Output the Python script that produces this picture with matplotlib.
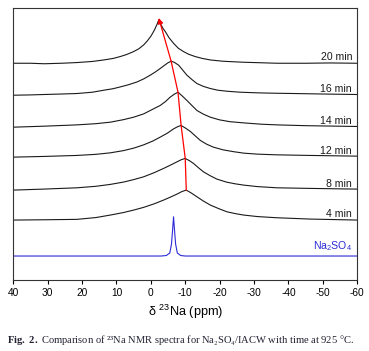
import matplotlib as mpl
mpl.use("Agg")
import matplotlib.pyplot as plt

mpl.rcParams["font.family"] = ["Liberation Sans", "DejaVu Sans"]
mpl.rcParams["axes.unicode_minus"] = False
mpl.rcParams["mathtext.fontset"] = "custom"
mpl.rcParams["mathtext.rm"] = "Liberation Sans"
mpl.rcParams["mathtext.it"] = "Liberation Sans:italic"
mpl.rcParams["mathtext.bf"] = "Liberation Serif:bold"

# spectra: chemical shift (ppm) and height above own baseline
labels = ["20 min", "16 min", "14 min", "12 min", "8 min", "4 min"]
offsets = [217, 185, 153, 123, 90, 60]

ppm_20 = [40, 35, 31, 26, 21.5, 17, 13.7, 11, 8.9, 7, 5, 3.5, 2.1, 1, 0, -1, -1.8, -2.3,
          -2.9, -3.6, -4.2, -5.3, -6.6, -8, -9.5, -11, -12.9, -15, -17.3, -21, -27, -32,
          -36.7, -45, -52, -60]
int_20 = [0, 0, -0.5, 0, 0.7, 1.8, 3.3, 4.8, 6.7, 8.8, 11.7, 14.5, 18.3, 22.5, 27, 33, 39, 43.3,
          39, 34.5, 31.7, 25.5, 20, 15, 11.7, 9, 6.7, 4.8, 3.3, 2, 1, 0.5,
          0, 0, 0.3, 0]

ppm_16 = [40, 35, 31.2, 26, 21.5, 17, 13.7, 11, 8.9, 6.5, 4, 2, 0.2, -1.4, -2.7, -3.8, -5, -5.9,
          -6.8, -8.1, -9.3, -10.5, -12, -13.4, -15.3, -17.3, -19.5, -22.1, -26, -31.8, -36,
          -41.5, -50, -60]
int_16 = [0, 0.3, 0.7, 1.2, 1.7, 3, 5, 6.5, 8.3, 10.5, 13.3, 16.5, 20, 23.5, 26.7, 29.5, 32.5, 34,
          33, 30, 25, 20, 15.5, 11.7, 8.8, 6.7, 5, 4, 3, 2.3, 2,
          1.7, 1.2, 0.7]

ppm_14 = [40, 31, 21.5, 16, 11.8, 8, 5, 2.1, 0, -2.7, -4.2, -5.6, -6.8, -7.9,
          -9.2, -10.5, -12, -13.4, -15.3, -17.3, -20, -23, -27, -32, -36.7, -45, -60]
int_14 = [0, 1, 2.3, 3.5, 5, 7.5, 10, 13.3, 17, 21.7, 25.5, 30, 33, 35,
          31, 26.7, 21.5, 16.7, 13, 10, 7.3, 5.5, 4.3, 3, 2.3, 1.5, 0.7]

ppm_12 = [40, 31.2, 21.5, 16, 11.8, 8, 5, 2.1, -0.5, -2.7, -4.8, -6.6, -7.8, -8.8,
          -10.1, -11.5, -13, -14.4, -16.2, -18.2, -21, -24, -27, -31, -36.7, -46.3, -60]
int_12 = [0, 0.7, 1.7, 2.8, 4.3, 6.5, 9, 12.3, 16, 20, 24, 28.3, 30.5, 31.7,
          29, 25.7, 21, 16.7, 13, 10, 7.3, 5.5, 4, 3, 2.3, 1.7, 1]

ppm_8 = [40, 31.2, 21.5, 16, 11.8, 8, 5, 2.1, -1, -3.7, -5.7, -7.6, -8.9, -10,
         -11.2, -12.4, -13.8, -15.3, -17.2, -19.2, -22, -24.5, -27, -31, -36.7, -46.3, -60]
int_8 = [0, 1, 2.3, 3.8, 5.7, 8, 10.5, 13.3, 17.5, 21.7, 25, 28.3, 30.5, 31.7,
         29.5, 26.7, 22.5, 18.3, 14.5, 11, 8, 6.3, 5, 3.5, 2.3, 1.7, 1]

ppm_4 = [40, 31, 21.5, 16, 11.8, 8, 5, 2.1, -1, -3.7, -5.7, -7.6, -9, -10.3,
         -11.8, -13.4, -15.3, -17.3, -19.7, -22.1, -24.5, -27, -31, -36.7, -46.3, -60]
int_4 = [0, 0.3, 0.7, 2.5, 5, 7.5, 10, 12.7, 16.3, 20, 23, 26, 28.5, 30,
         27, 23.3, 19, 15, 11.5, 8.3, 6.5, 5, 3.5, 2.3, 1, 0]

ppm_na = [40, -3, -4.5, -5.5, -6.0, -6.3, -6.6, -6.9, -7.2, -7.7, -8.7, -10, -60]
int_na = [0, 0, 0.5, 3, 12, 25, 39.3, 25, 12, 3, 0.5, 0, 0]
offset_na = 24

spectra = [(ppm_20, int_20), (ppm_16, int_16), (ppm_14, int_14),
           (ppm_12, int_12), (ppm_8, int_8), (ppm_4, int_4)]

fig = plt.figure(figsize=(3.69, 3.51), dpi=100)
ax = fig.add_axes([0.036, 0.2023, 0.932, 0.774])

# ====================================================================

peak_x = []
peak_y = []
for (p, h), off, lab in zip(spectra, offsets, labels):
    ax.plot(p, [v + off for v in h], color="#1a1a1a", lw=0.8, solid_joinstyle="round")
    ax.text(-58.5, off + 1.5, lab, ha="right", va="bottom", fontsize=7.6, color="#1a1a1a")
    i = h.index(max(h))
    peak_x.append(p[i])
    peak_y.append(h[i] + off)

ax.plot(ppm_na, [v + offset_na for v in int_na], color="#2b2bd6", lw=0.8)
ax.text(-58.5, offset_na + 3, "Na$_2$SO$_4$", ha="right", va="bottom", fontsize=7.6, color="#2b2bd6")

# red trend line through the peak maxima, oldest to newest
tx = peak_x[::-1]
ty = peak_y[::-1]
ax.plot(tx[:-1], ty[:-1], color="red", lw=0.9)
ax.annotate("", xy=(tx[-1], ty[-1] + 2), xytext=(tx[-2], ty[-2]),
            arrowprops=dict(arrowstyle="-|>", color="red", lw=0.9,
                            mutation_scale=8, shrinkA=0, shrinkB=0))

# ====================================================================

ax.set_xlim(40, -60)
ax.set_ylim(0, 272)
ax.set_yticks([])
ax.set_xticks(range(40, -61, -10))
ax.tick_params(axis="x", direction="out", length=3, width=0.8, labelsize=7.3, pad=3)
for s in ax.spines.values():
    s.set_linewidth(0.8)
    s.set_color("#333333")
ax.set_xlabel("δ $^{23}$Na (ppm)", fontsize=9.2, labelpad=3)

fig.text(0.018, 0.022,
         r"$\bf{Fig.\ 2.}$ Comparison of ²³Na NMR spectra for Na₂SO₄/IACW with time at 925 °C.",
         fontsize=7.6, family=["Liberation Serif", "DejaVu Serif"], color="#222233")

fig.savefig("out.png", dpi=100)
